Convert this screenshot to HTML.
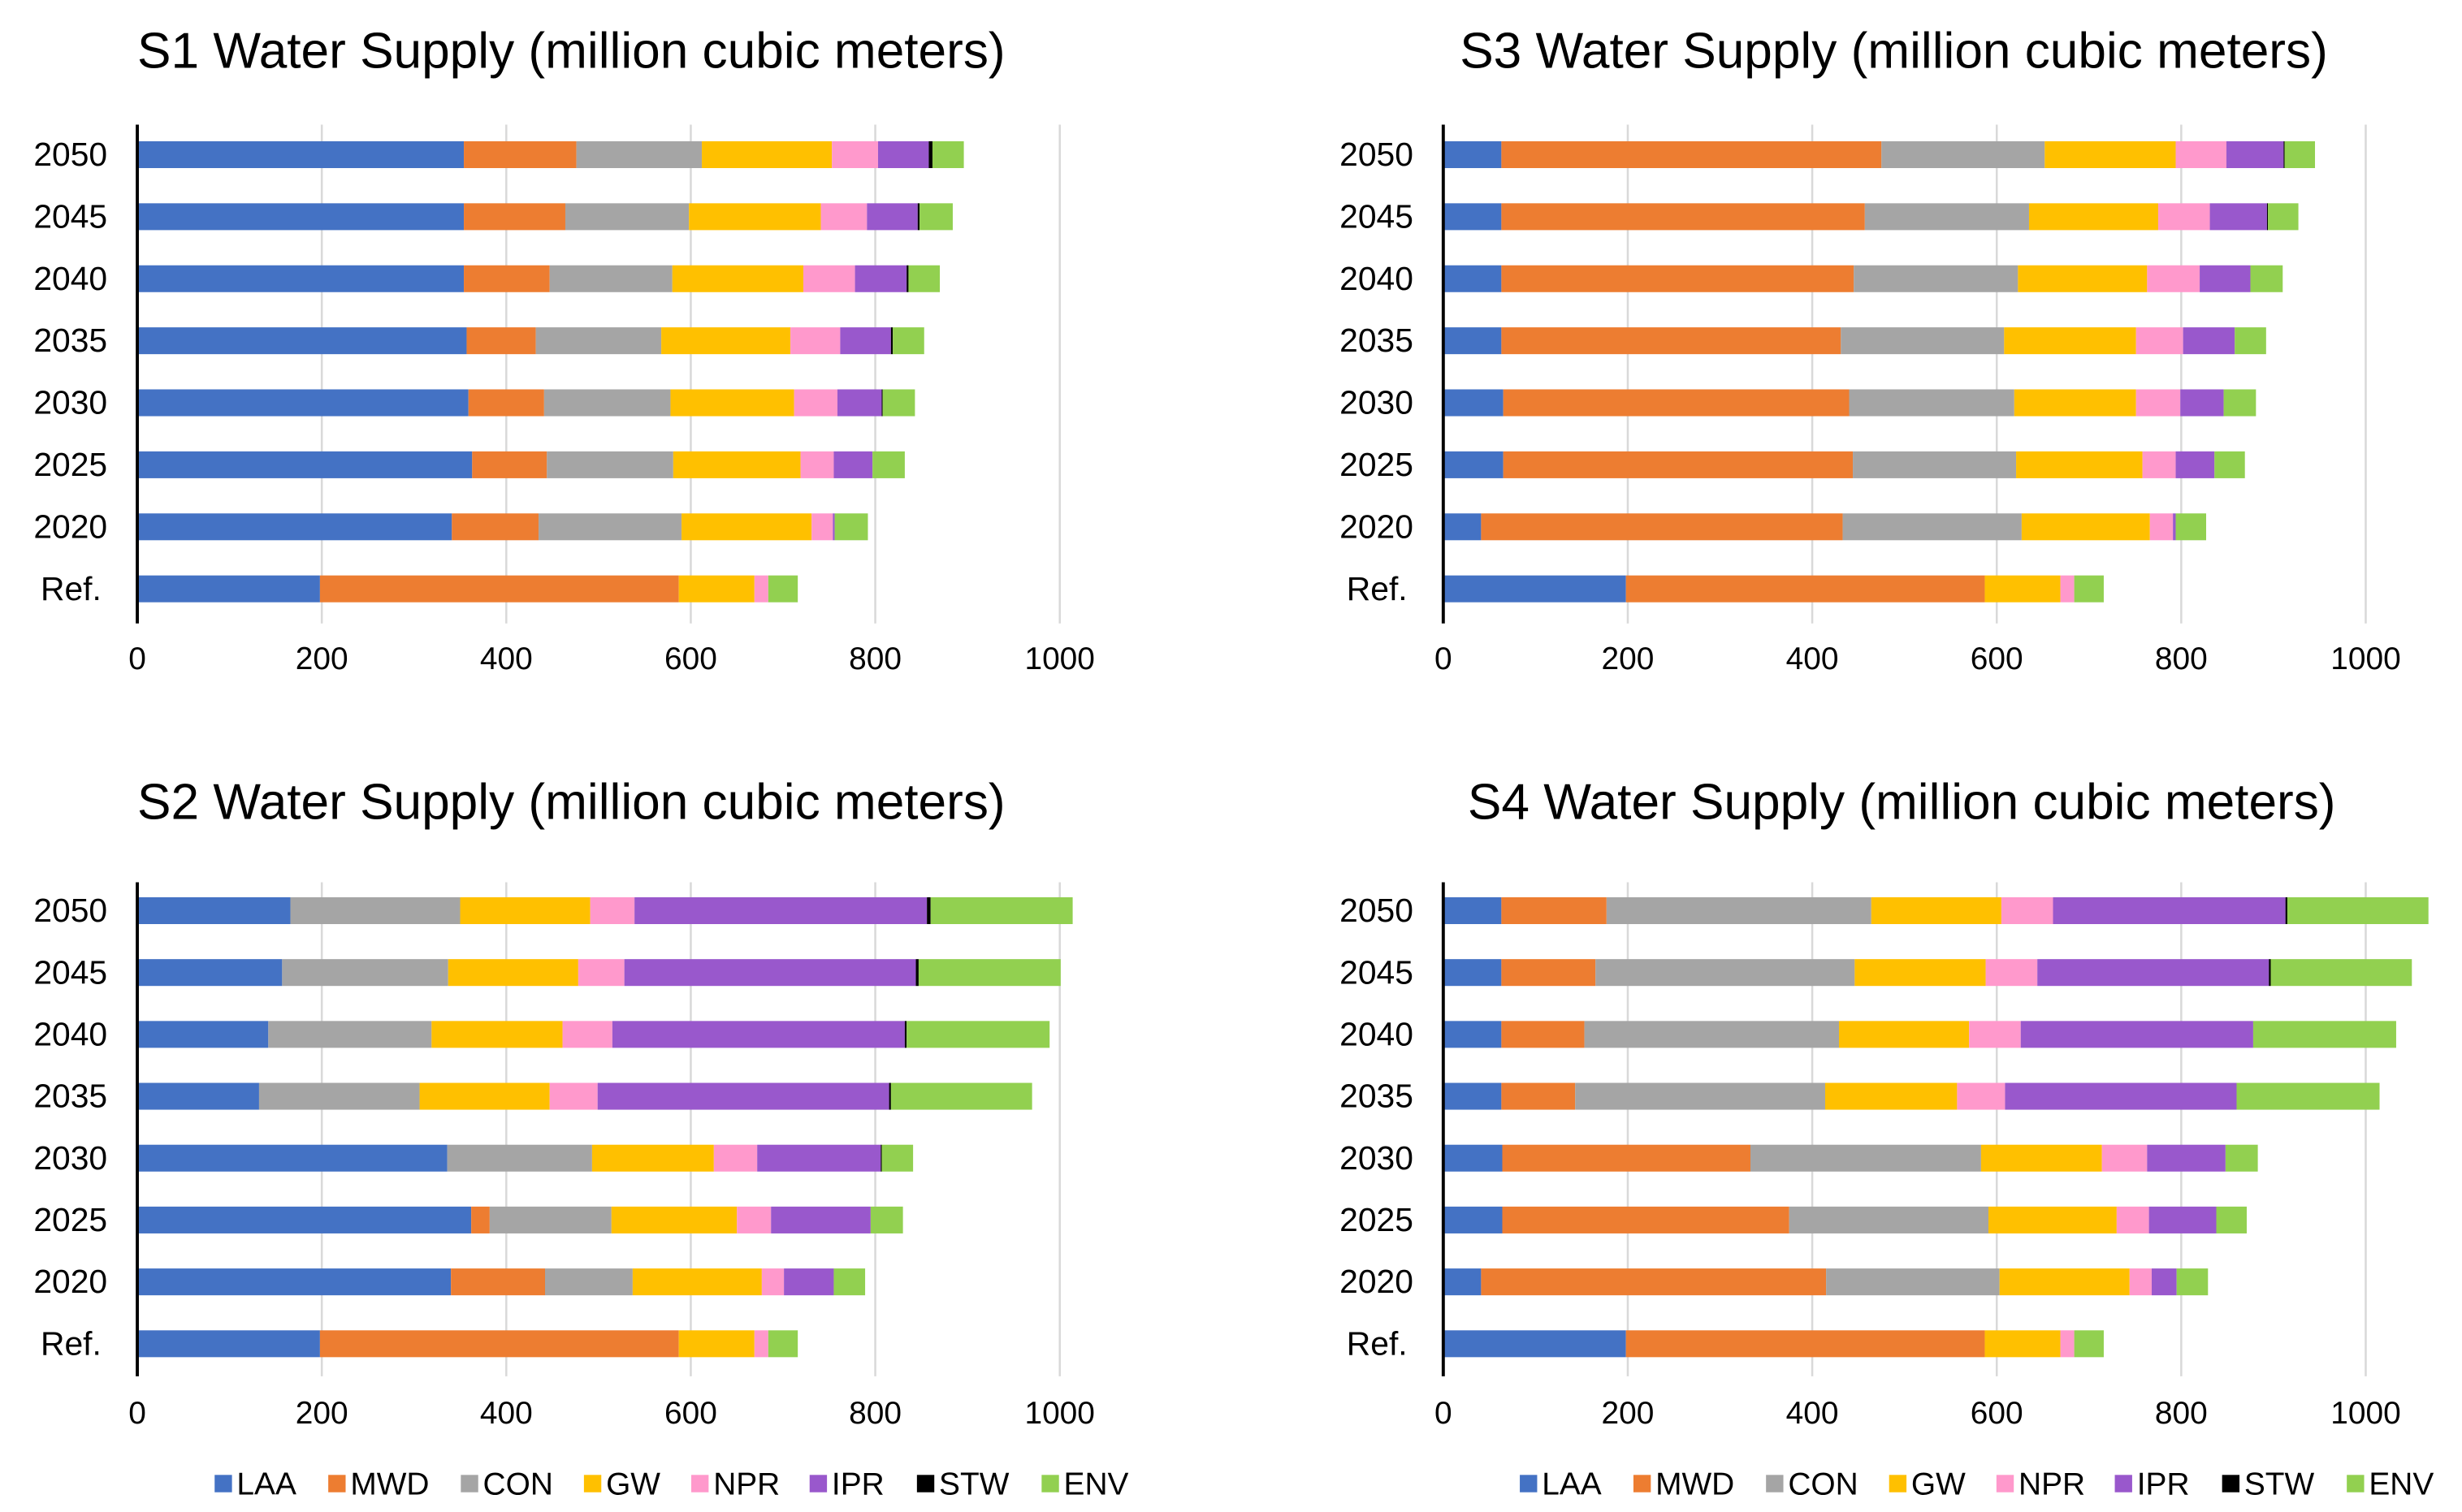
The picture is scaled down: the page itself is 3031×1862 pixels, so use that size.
<!DOCTYPE html>
<html><head><meta charset="utf-8"><style>
html,body{margin:0;padding:0;background:#fff;}
svg{display:block;font-family:"Liberation Sans",Arial,sans-serif;}
</style></head><body>
<svg id="root" width="3031" height="1862" viewBox="0 0 1560 958" preserveAspectRatio="none" xmlns="http://www.w3.org/2000/svg"></svg>
<script>
const categories = ["2050","2045","2040","2035","2030","2025","2020","Ref."];
const seriesNames = ["LAA","MWD","CON","GW","NPR","IPR","STW","ENV"];
const seriesColors = ["#4472c4","#ed7d31","#a5a5a5","#ffc000","#ff99cc","#9958cc","#000000","#92d050"];
const tickValues = [0,200,400,600,800,1000];
// cumulative end values per segment (LAA..ENV) for each category
const s1Cum = [
 [354,476,612,753,803,858,862,896],
 [354,464,598,741,791,846,848,884],
 [354,447,580,722,778,834,836,870],
 [357,432,568,708,762,817,819,853],
 [359,441,578,712,759,807,808,843],
 [363,444,581,719,755,797,797,832],
 [341,435,590,731,754,756,756,792],
 [198,587,587,669,684,684,684,716]];
const s3Cum = [
 [63,475,652,794,849,911,912,945],
 [63,457,635,775,831,893,894,927],
 [63,445,623,763,820,875,875,910],
 [63,431,608,751,802,858,858,892],
 [65,440,619,751,799,846,846,881],
 [65,444,621,758,794,836,836,869],
 [41,433,627,766,791,794,794,827],
 [198,587,587,669,684,684,684,716]];
const s2Cum = [
 [166,166,350,491,539,856,860,1014],
 [157,157,337,478,528,844,847,1001],
 [142,142,319,461,515,832,834,989],
 [132,132,306,447,499,815,817,970],
 [336,336,493,625,672,806,807,841],
 [362,382,514,650,687,795,795,830],
 [340,442,537,677,701,755,755,789],
 [198,587,587,669,684,684,684,716]];
const s4Cum = [
 [63,177,464,605,661,913,915,1068],
 [63,165,446,588,644,895,897,1050],
 [63,153,429,570,626,878,878,1033],
 [63,143,414,557,609,860,860,1015],
 [64,333,583,714,763,848,848,883],
 [64,375,591,730,765,838,838,871],
 [41,415,603,744,768,795,795,829],
 [198,587,587,669,684,684,684,716]];

const NS="http://www.w3.org/2000/svg";
const root=document.getElementById('root');
function mk(tag,attrs,parent){const e=document.createElementNS(NS,tag);for(const k in attrs)e.setAttribute(k,attrs[k]);(parent||root).appendChild(e);return e;}

function drawChart(id,title,cum,x0,titleX,titleY,yTop,yBottom,row0,rowStep,tickY,legendX){
  const g=mk('g',{});
  
  
  const xs=v=>x0+v*0.5845;
  const ys=i=>row0+i*rowStep;
  const t=mk('text',{x:titleX,y:titleY,'font-size':32,fill:'#000'},g);
  t.textContent=title;
  
  
  tickValues.forEach(v=>{
    if(v>0){const gl=mk('line',{x1:xs(v),x2:xs(v),y1:yTop,y2:yBottom,stroke:'#d9d9d9','stroke-width':1.3},g);
      
      }
    const tl=mk('text',{x:xs(v),y:tickY,'font-size':20,'text-anchor':'middle',fill:'#000'},g);
    tl.textContent=v;
    
    
  });
  cum.forEach((row,i)=>{
    let prev=0;
    row.forEach((end,j)=>{
      if(end>prev){
        const r=mk('rect',{x:xs(prev),y:ys(i)-8.5,width:xs(end)-xs(prev),height:17,fill:seriesColors[j]},g);
        
        
      }
      prev=Math.max(prev,end);
    });
    const isRef = categories[i]==="Ref.";
    const lb=mk('text',{x:isRef?x0-42:x0-19,y:ys(i)+7,'font-size':21,'text-anchor':isRef?'middle':'end',fill:'#000'},g);
    lb.textContent=categories[i];
    
    
  });
  const ax=mk('line',{x1:x0,x2:x0,y1:yTop,y2:yBottom,stroke:'#000','stroke-width':2},g);
  
  
  if(legendX!==null){
    const offs=[0,72,156,234,302,377,445,524];
    const lg=mk('g',{},g);
    
    
    seriesNames.forEach((n,j)=>{
      const e=mk('g',{},lg);
      
      
      mk('rect',{x:legendX+offs[j],y:934.5,width:11,height:11,fill:seriesColors[j]},e);
      const tx=mk('text',{x:legendX+offs[j]+14,y:947,'font-size':20,fill:'#000'},e);
      tx.textContent=n;
    });
  }
}
drawChart('s1','S1 Water Supply (million cubic meters)',s1Cum,87,87,43,79,395,98,39.3,424,null);
drawChart('s3','S3 Water Supply (million cubic meters)',s3Cum,914.5,925,43,79,395,98,39.3,424,null);
drawChart('s2','S2 Water Supply (million cubic meters)',s2Cum,87,87,519,559,872,577,39.2,902,136);
drawChart('s4','S4 Water Supply (million cubic meters)',s4Cum,914.5,930,519,559,872,577,39.2,902,963);
</script>
</body></html>
